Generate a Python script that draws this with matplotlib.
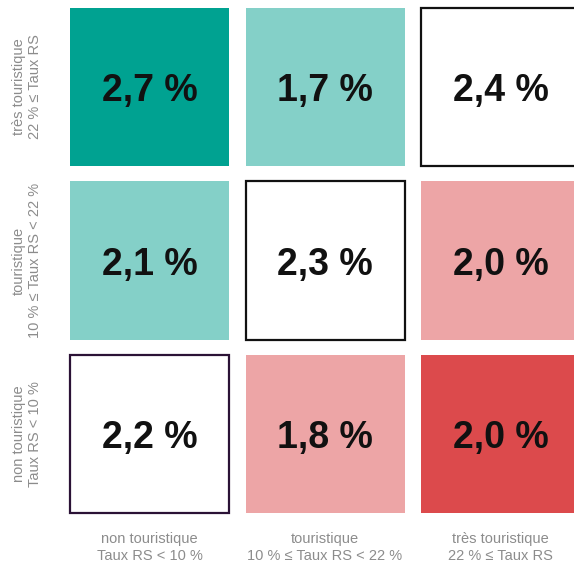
import matplotlib.pyplot as plt
from matplotlib.patches import Rectangle

plt.rcParams['font.family'] = ['Liberation Sans', 'DejaVu Sans']

# Columns: tourist intensity of the area; rows from top: très / touristique / non
col_labels = ['non touristique\nTaux RS < 10 %',
              'touristique\n10 % ≤ Taux RS < 22 %',
              'très touristique\n22 % ≤ Taux RS']
row_labels = ['très touristique\n22 % ≤ Taux RS',
              'touristique\n10 % ≤ Taux RS < 22 %',
              'non touristique\nTaux RS < 10 %']

values = [[2.7, 1.7, 2.4],
          [2.1, 2.3, 2.0],
          [2.2, 1.8, 2.0]]

fills = [['#00a291', '#84d0c8', 'white'],
         ['#84d0c8', 'white', '#eda5a6'],
         ['white', '#eda5a6', '#dc4a4c']]
edges = [[None, None, '#111111'],
         [None, '#111111', None],
         ['#2b1236', None, None]]

fig = plt.figure(figsize=(5.74, 5.63), dpi=100)
ax = fig.add_axes([0.1076, 0.0750, 0.9173, 0.9245])

w, h = 0.906, 0.911
for r in range(3):
    for c in range(3):
        ec = edges[r][c]
        ax.add_patch(Rectangle((c - w / 2, r - h / 2), w, h,
                               facecolor=fills[r][c],
                               edgecolor=ec if ec else 'none',
                               linewidth=1.6 if ec else 0))
        txt = f'{values[r][c]:.1f} %'.replace('.', ',')
        ax.text(c, r, txt, ha='center', va='center_baseline', fontsize=27,
                fontweight='bold', color='#111111')

ax.set_xlim(-0.5, 2.5)
ax.set_ylim(2.5, -0.5)
ax.set_xticks(range(3))
ax.set_xticklabels(col_labels, fontsize=10.5, color='#8c8c8c', linespacing=1.3)
ax.set_yticks(range(3))
ax.set_yticklabels(row_labels, fontsize=10.5, color='#8c8c8c', rotation=90,
                   va='center', ha='center', linespacing=1.25)
ax.tick_params(length=0)
ax.tick_params(axis='x', pad=8)
ax.tick_params(axis='y', pad=25)
for s in ax.spines.values():
    s.set_visible(False)

fig.savefig('out.png', dpi=100)
